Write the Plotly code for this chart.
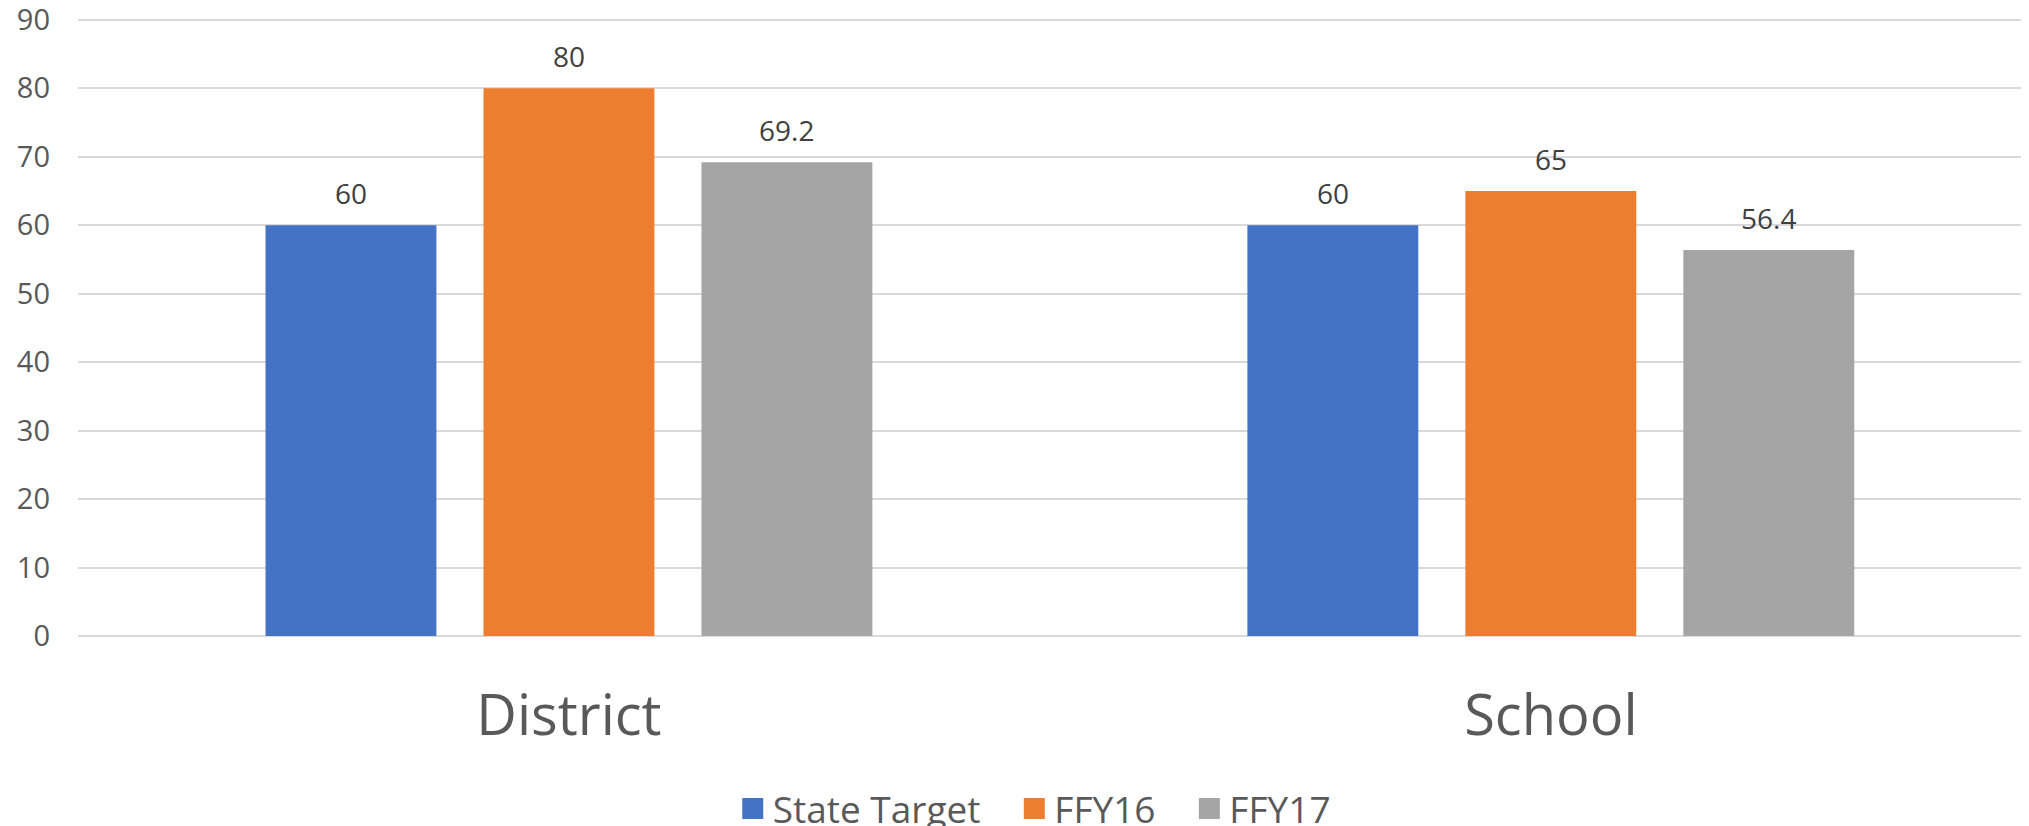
import plotly.graph_objects as go

categories = ["District", "School"]
series_names = ["State Target", "FFY16", "FFY17"]
state_target = [60, 60]
ffy16 = [80, 65]
ffy17 = [69.2, 56.4]
y_ticks = [0, 10, 20, 30, 40, 50, 60, 70, 80, 90]

colors = ["#4472C4", "#ED7D31", "#A5A5A5"]
values = [state_target, ffy16, ffy17]

# the page body has an 8px default margin, so the figure is 8px smaller
W, H = 2021, 818
Y_RANGE = [0, 91]
ML, MR, MB = 70, 0, 190
MT = 5.2
FONT = "Open Sans"
X_RANGE = [-0.5, 1.487]
BARGAP = 0.334
GROUPGAP = 0.216

# pixel width of one bar slot inside a group (for placing value labels)
px_per_unit = (W - ML - MR) / (X_RANGE[1] - X_RANGE[0])
slot_px = px_per_unit * (1 - BARGAP) / len(series_names)

fig = go.Figure()
annotations = []
for i, (name, vals, col) in enumerate(zip(series_names, values, colors)):
    fig.add_trace(go.Bar(
        x=categories, y=vals, name=name, marker=dict(color=col, line=dict(width=0)),
        showlegend=False, hoverinfo="x+y+name",
    ))
    # legend proxy with larger square symbol
    fig.add_trace(go.Scatter(
        x=[None], y=[None], mode="markers", name=name + "\u00a0\u00a0\u00a0",
        marker=dict(symbol="square", size=16, color=col, line=dict(color=col, width=5)),
        showlegend=True,
    ))
    for c, v in zip(categories, vals):
        annotations.append(dict(
            x=c, y=v, xref="x", yref="y", text=f"{v:g}", showarrow=False,
            xanchor="center", yanchor="bottom", xshift=(i - 1) * slot_px, yshift=11,
            font=dict(family=FONT, size=28, color="#404040"),
        ))

fig.update_layout(
    width=W, height=H,
    margin=dict(l=ML, r=MR, t=MT, b=MB, autoexpand=False),
    paper_bgcolor="white", plot_bgcolor="white",
    barmode="group", bargap=BARGAP, bargroupgap=GROUPGAP,
    font=dict(family=FONT, color="#595959"),
    legend=dict(orientation="h", x=0.3356, xanchor="left", y=0.0207, yanchor="middle",
                yref="container",
                font=dict(family=FONT, size=37, color="#595959"),
                itemsizing="trace", traceorder="normal"),
    annotations=annotations,
)
fig.update_xaxes(
    type="category", range=X_RANGE, showgrid=False, zeroline=False, automargin=False,
    showline=False, ticks="", tickfont=dict(family=FONT, size=56, color="#595959"),
    ticklabelstandoff=42,
)
fig.update_yaxes(
    range=Y_RANGE, tickvals=y_ticks, showgrid=True, gridcolor="#D9D9D9", gridwidth=2,
    zeroline=True, zerolinecolor="#D9D9D9", zerolinewidth=2, showline=False, ticks="",
    automargin=False, ticklabeloverflow="allow",
    tickfont=dict(family=FONT, size=29, color="#595959"), ticklabelstandoff=27,
)

fig.write_html("out.html")
